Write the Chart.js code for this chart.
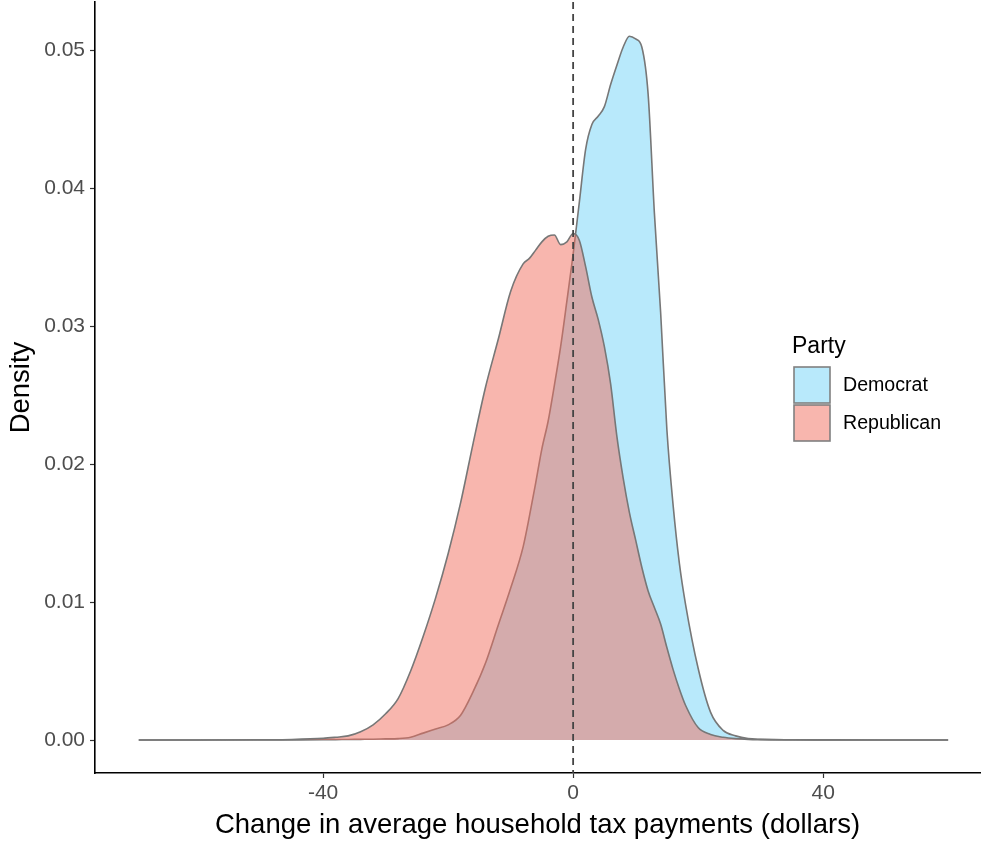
<!DOCTYPE html>
<html>
<head>
<meta charset="utf-8">
<script src="https://cdn.jsdelivr.net/npm/chart.js@4.4.1/dist/chart.umd.min.js"></script>
<style>
  html, body { margin: 0; padding: 0; background: #ffffff; }
  #wrap { width: 982px; height: 842px; }
</style>
</head>
<body>
<div id="wrap"><canvas id="chart" width="982" height="842"></canvas></div>
<script>
// Change in average household tax payments (dollars), evaluation grid
const dollars = [
  -69.5, -60, -50, -45, -40, -38, -36, -34, -32, -30, -28, -26, -24, -22, -20, -18, -16, -14, -12, -10,
  -8, -7, -6, -5, -4, -3, -2, -1, 0, 1, 2, 3, 4, 5, 6, 7, 8, 9, 10, 11,
  12, 13, 14, 15, 16, 17, 18, 20, 22, 24, 26, 28, 30, 35, 40, 50, 60
];

// Kernel density estimates per party
const democrat = [
  0, 0, 0, 0.00001, 0.00002, 0.00003, 0.00004, 0.00005, 0.00006, 0.00008, 0.0001, 0.0002, 0.0005, 0.0008, 0.0011, 0.0018, 0.0035, 0.0056, 0.0083, 0.0110,
  0.0140, 0.0162, 0.0186, 0.0211, 0.0231, 0.0257, 0.0285, 0.0318, 0.0352, 0.0390, 0.0428, 0.0446, 0.0452, 0.0459, 0.0475, 0.0489, 0.0502, 0.0510, 0.0508, 0.0502,
  0.0468, 0.0382, 0.0310, 0.0225, 0.0170, 0.0128, 0.0098, 0.0052, 0.0020, 0.0007, 0.0003, 0.0001, 0.00005, 0.00002, 0.00001, 0, 0
];

const republican = [
  0, 0, 0.00002, 0.00004, 0.00012, 0.0002, 0.0003, 0.0006, 0.0011, 0.0019, 0.0030, 0.0050, 0.0075, 0.0103, 0.0135, 0.0172, 0.0215, 0.0256, 0.0290, 0.0325,
  0.0345, 0.0349, 0.0355, 0.0361, 0.0365, 0.0366, 0.0359, 0.0361, 0.0367, 0.0362, 0.0343, 0.0321, 0.0305, 0.0285, 0.0258, 0.0220, 0.0190, 0.0165, 0.0145, 0.0125,
  0.0108, 0.0096, 0.0084, 0.0067, 0.0051, 0.0037, 0.0025, 0.0009, 0.0004, 0.0002, 0.0001, 0.00005, 0.00003, 0.00001, 0, 0, 0
];

const parties = ['Democrat', 'Republican'];
const xTicks = [-40, 0, 40];
const yTicks = [0, 0.01, 0.02, 0.03, 0.04, 0.05];
const referenceLine = 0;

const FONT = '"Liberation Sans", Arial, Helvetica, sans-serif';
const fills = ['rgba(113, 211, 247, 0.5)', 'rgba(241, 109, 93, 0.5)'];
const outline = '#777777';

const toPoints = (ys) => dollars.map((x, i) => ({ x: x, y: ys[i] }));

// Dashed vertical reference line at zero change
const zeroLine = {
  id: 'zeroLine',
  afterDatasetsDraw(chart) {
    const { ctx, chartArea, scales } = chart;
    const px = scales.x.getPixelForValue(referenceLine);
    ctx.save();
    ctx.strokeStyle = '#444444';
    ctx.lineWidth = 1.8;
    ctx.setLineDash([7, 5]);
    ctx.beginPath();
    ctx.moveTo(px, chartArea.top);
    ctx.lineTo(px, chartArea.bottom);
    ctx.stroke();
    ctx.restore();
  }
};

// Fill legend with a title, drawn inside the plot on the right
const partyLegend = {
  id: 'partyLegend',
  afterDraw(chart) {
    const { ctx } = chart;
    const left = 794, top = 367, size = 36;
    ctx.save();
    ctx.fillStyle = '#000000';
    ctx.font = '23px ' + FONT;
    ctx.textBaseline = 'alphabetic';
    ctx.textAlign = 'left';
    ctx.fillText('Party', 792, 353);
    ctx.font = '19.6px ' + FONT;
    chart.data.datasets.forEach((ds, i) => {
      const y = top + i * (size + 2);
      ctx.fillStyle = '#ffffff';
      ctx.fillRect(left, y, size, size);
      ctx.fillStyle = ds.backgroundColor;
      ctx.fillRect(left, y, size, size);
      ctx.strokeStyle = '#808080';
      ctx.lineWidth = 1.6;
      ctx.strokeRect(left, y, size, size);
      ctx.fillStyle = '#000000';
      ctx.textBaseline = 'middle';
      ctx.fillText(ds.label, 843, y + size / 2 + 1);
    });
    ctx.restore();
  }
};

new Chart(document.getElementById('chart'), {
  type: 'line',
  data: {
    datasets: [
      {
        label: parties[0],
        data: toPoints(democrat),
        backgroundColor: fills[0],
        borderColor: outline,
        borderWidth: 1.6,
        fill: 'origin',
        pointRadius: 0,
        cubicInterpolationMode: 'monotone',
        order: 2
      },
      {
        label: parties[1],
        data: toPoints(republican),
        backgroundColor: fills[1],
        borderColor: outline,
        borderWidth: 1.6,
        fill: 'origin',
        pointRadius: 0,
        cubicInterpolationMode: 'monotone',
        order: 1
      }
    ]
  },
  options: {
    responsive: false,
    animation: false,
    layout: { padding: { top: 2, right: 2, left: 0, bottom: 0 } },
    plugins: {
      legend: { display: false },
      tooltip: { enabled: false }
    },
    scales: {
      x: {
        type: 'linear',
        min: -76.5,
        max: 65.1,
        afterBuildTicks(scale) { scale.ticks = xTicks.map(v => ({ value: v })); },
        afterFit(scale) { scale.height = 69; scale.paddingLeft = 0; scale.paddingRight = 0; },
        grid: { drawOnChartArea: false, drawTicks: true, tickLength: 5, color: '#333333', tickWidth: 1.2 },
        border: { display: true, color: '#000000', width: 1.6 },
        ticks: {
          color: '#4d4d4d',
          font: { family: FONT, size: 21 },
          padding: 3,
          maxRotation: 0,
          callback: (v) => String(v)
        },
        title: {
          display: true,
          text: 'Change in average household tax payments (dollars)',
          color: '#000000',
          font: { family: FONT, size: 27.5 },
          padding: { top: 0, bottom: 0 }
        }
      },
      y: {
        type: 'linear',
        min: -0.00239,
        max: 0.05348,
        afterBuildTicks(scale) { scale.ticks = yTicks.map(v => ({ value: v })); },
        afterFit(scale) { scale.width = 95; scale.paddingTop = 0; scale.paddingBottom = 0; },
        grid: { drawOnChartArea: false, drawTicks: true, tickLength: 5, color: '#333333', tickWidth: 1.2 },
        border: { display: true, color: '#000000', width: 1.6 },
        ticks: {
          color: '#4d4d4d',
          font: { family: FONT, size: 21 },
          padding: 5,
          callback: (v) => Number(v).toFixed(2)
        },
        title: {
          display: true,
          text: 'Density',
          color: '#000000',
          font: { family: FONT, size: 27.5 },
          padding: { top: 5, bottom: 0 }
        }
      }
    }
  },
  plugins: [zeroLine, partyLegend]
});
</script>
</body>
</html>
